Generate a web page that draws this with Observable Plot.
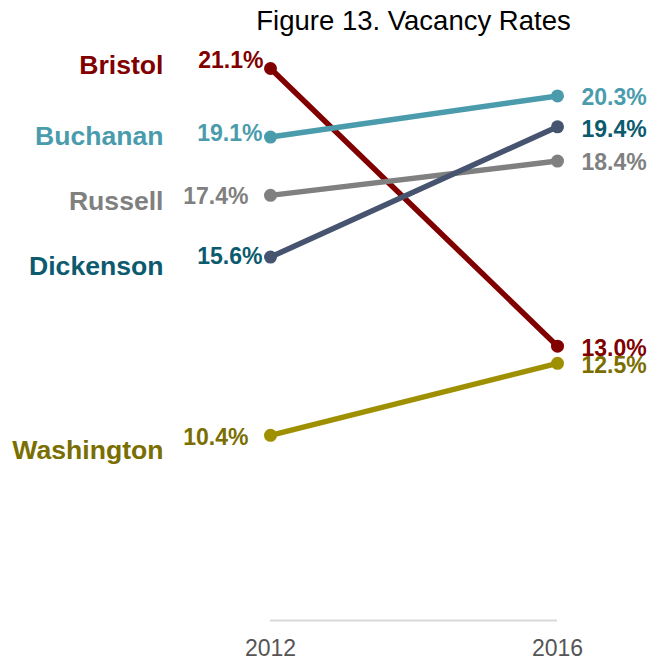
<!DOCTYPE html>
<html>
<head>
<meta charset="utf-8">
<script src="https://cdn.jsdelivr.net/npm/d3@7"></script>
<script src="https://cdn.jsdelivr.net/npm/@observablehq/plot@0.6"></script>
<style>
  body { margin: 0; background: #fff; font-family: "Liberation Sans", Arial, sans-serif; }
  #wrap { position: relative; width: 652px; }
  #title { position: absolute; left: 270px; width: 287px; top: 0; height: 44px; line-height: 42px;
           text-align: center; white-space: nowrap; font-size: 27.5px; color: #000;
           display: flex; justify-content: center; }
  #chart { padding-top: 44px; }
</style>
</head>
<body>
<div id="wrap">
  <div id="title"><span>Figure 13. Vacancy Rates</span></div>
  <div id="chart"></div>
</div>
<script>
// ---- data ----
const counties = ["Bristol", "Buchanan", "Russell", "Dickenson", "Washington"];
const years = [2012, 2016];
const rate2012 = [21.1, 19.1, 17.4, 15.6, 10.4];
const rate2016 = [13.0, 20.3, 18.4, 19.4, 12.5];

// ---- styles ----
const lineColor = {Bristol: "#800000", Buchanan: "#4A9CAD", Russell: "#808080", Dickenson: "#475470", Washington: "#9E9000"};
const labelColor = {Bristol: "#800000", Buchanan: "#4A9CAD", Russell: "#808080", Dickenson: "#0B5A6E", Washington: "#7A6E00"};
// label nudges in px (repelled positions)
const nameDy = {Bristol: -3, Buchanan: -1, Russell: 6, Dickenson: 9, Washington: 15};
const leftDy = {Bristol: -8, Buchanan: -3, Russell: 1.5, Dickenson: 0, Washington: 2};
const leftDx = {Bristol: -7, Buchanan: -8, Russell: -22, Dickenson: -8, Washington: -22};
const rightDy = {Bristol: 2, Buchanan: 2, Russell: 2, Dickenson: 3, Washington: 2};

const rows = [];
counties.forEach((c, i) => {
  rows.push({county: c, year: years[0], rate: rate2012[i]});
  rows.push({county: c, year: years[1], rate: rate2016[i]});
});
const fmt = d => d.rate.toFixed(1) + "%";

const marks = [
  Plot.ruleY([5], {x1: years[0], x2: years[1], stroke: "#d9d9d9", strokeWidth: 2}),
  Plot.axisX({ticks: years, tickFormat: d => String(d), tickSize: 0, tickPadding: 19,
              fontSize: 23, fill: "#555", label: null}),
  Plot.line(rows, {x: "year", y: "rate", z: "county", stroke: d => lineColor[d.county], strokeWidth: 5.5}),
  Plot.dot(rows, {x: "year", y: "rate", r: 6.5, fill: d => lineColor[d.county], stroke: "none"})
];

counties.forEach(c => {
  const left = rows.filter(d => d.county === c && d.year === years[0]);
  const right = rows.filter(d => d.county === c && d.year === years[1]);
  marks.push(Plot.text(left, {x: "year", y: "rate", text: "county", textAnchor: "end",
    dx: -107, dy: nameDy[c], fill: labelColor[c], fontSize: 26.6, fontWeight: "bold"}));
  marks.push(Plot.text(left, {x: "year", y: "rate", text: fmt, textAnchor: "end",
    dx: leftDx[c], dy: leftDy[c], fill: labelColor[c], fontSize: 23, fontWeight: "bold"}));
  marks.push(Plot.text(right, {x: "year", y: "rate", text: fmt, textAnchor: "start",
    dx: 24, dy: rightDy[c], fill: labelColor[c], fontSize: 23, fontWeight: "bold"}));
});

const chart = Plot.plot({
  width: 652,
  height: 615,
  marginTop: 24,
  marginBottom: 39,
  marginLeft: 270,
  marginRight: 95,
  style: {fontFamily: "Liberation Sans, Arial, sans-serif", background: "white", overflow: "visible"},
  x: {domain: [2012, 2016], range: [270, 557], axis: null},
  y: {domain: [5, 21.1], range: [576, 24], axis: null},
  color: {type: "identity"},
  marks
});
document.getElementById("chart").appendChild(chart);
</script>
</body>
</html>
